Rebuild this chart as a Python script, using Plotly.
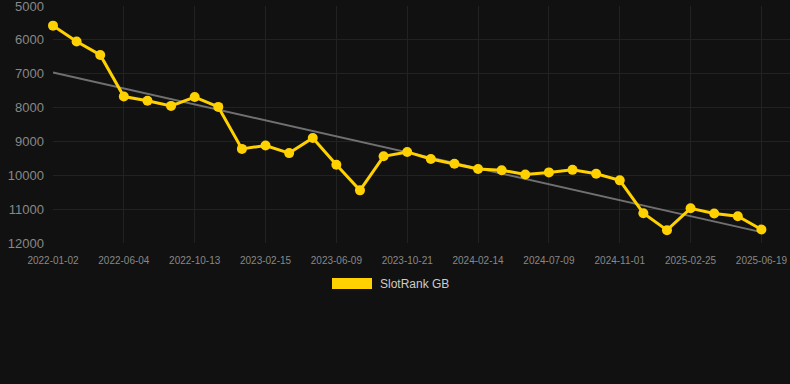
import numpy as np
import plotly.graph_objects as go

tick_dates = ["2022-01-02", "2022-06-04", "2022-10-13", "2023-02-15", "2023-06-09",
              "2023-10-21", "2024-02-14", "2024-07-09", "2024-11-01", "2025-02-25", "2025-06-19"]

# 31 observation labels (only every third is shown on the axis)
dates = ["2022-01-02", "2022-02-22", "2022-04-14", "2022-06-04", "2022-07-18", "2022-08-30",
         "2022-10-13", "2022-11-23", "2023-01-04", "2023-02-15", "2023-03-25", "2023-05-02",
         "2023-06-09", "2023-07-24", "2023-09-07", "2023-10-21", "2023-11-29", "2024-01-06",
         "2024-02-14", "2024-04-02", "2024-05-21", "2024-07-09", "2024-08-16", "2024-09-24",
         "2024-11-01", "2024-12-10", "2025-01-18", "2025-02-25", "2025-04-04", "2025-05-12",
         "2025-06-19"]

rank = [5580, 6050, 6445, 7675, 7800, 7950, 7690, 7980, 9220, 9120,
        9345, 8900, 9690, 10445, 9440, 9310, 9520, 9660, 9815, 9850,
        9975, 9915, 9840, 9955, 10150, 11120, 11620, 10975, 11130, 11210,
        11600]

y_ticks = [5000, 6000, 7000, 8000, 9000, 10000, 11000, 12000]

series_name = "SlotRank GB"

idx = np.arange(len(rank))
slope, intercept = np.polyfit(idx, rank, 1)
trend = slope * idx + intercept

# plot area geometry (pixels)
L, T, W, H = 53, 6, 737, 237


def px_x(p):
    return (p - L) / W


def px_y(p):
    return (T + H - p) / H


fig = go.Figure()
fig.add_trace(go.Scatter(x=dates, y=trend, mode="lines",
                         line=dict(color="#707070", width=2),
                         hoverinfo="skip", showlegend=False, cliponaxis=False))
fig.add_trace(go.Scatter(x=dates, y=rank, mode="lines+markers", name=series_name,
                         line=dict(color="#FFD100", width=3),
                         marker=dict(color="#FFD100", size=10),
                         showlegend=False, cliponaxis=False))

fig.update_layout(
    width=790, height=384,
    paper_bgcolor="#111111", plot_bgcolor="#111111",
    margin=dict(l=L, r=790 - L - W, t=T, b=384 - T - H),
    font=dict(family="Liberation Sans, Arial, sans-serif", color="#888888"),
    xaxis=dict(type="category", range=[0, 31.21],
               tickmode="array", tickvals=tick_dates, ticktext=tick_dates,
               tickfont=dict(size=10, color="#888888"),
               showgrid=True, gridcolor="#222222", gridwidth=1,
               zeroline=False, showline=False, ticks="", ticklen=0,
               ticklabelstandoff=10, ticklabeloverflow="allow"),
    yaxis=dict(range=[12000, 5000], tickmode="array", tickvals=y_ticks,
               ticktext=[str(v) for v in y_ticks],
               tickfont=dict(size=13, color="#888888"),
               showgrid=True, gridcolor="#222222", gridwidth=1,
               zeroline=False, showline=False, ticks="", ticklabelstandoff=8,
               ticklabeloverflow="allow"),
    shapes=[dict(type="rect", xref="paper", yref="paper",
                 x0=px_x(332), x1=px_x(372),
                 y0=px_y(289), y1=px_y(278),
                 fillcolor="#FFD100", line=dict(width=0))],
    annotations=[dict(text=series_name, xref="paper", yref="paper",
                      x=px_x(378), y=px_y(284),
                      xanchor="left", yanchor="middle", showarrow=False,
                      font=dict(size=12, color="#CCCCCC"))],
)

fig.write_html("out.html", config={"displayModeBar": False},
               post_script="document.body.style.margin='0';document.body.style.background='#111111';")
